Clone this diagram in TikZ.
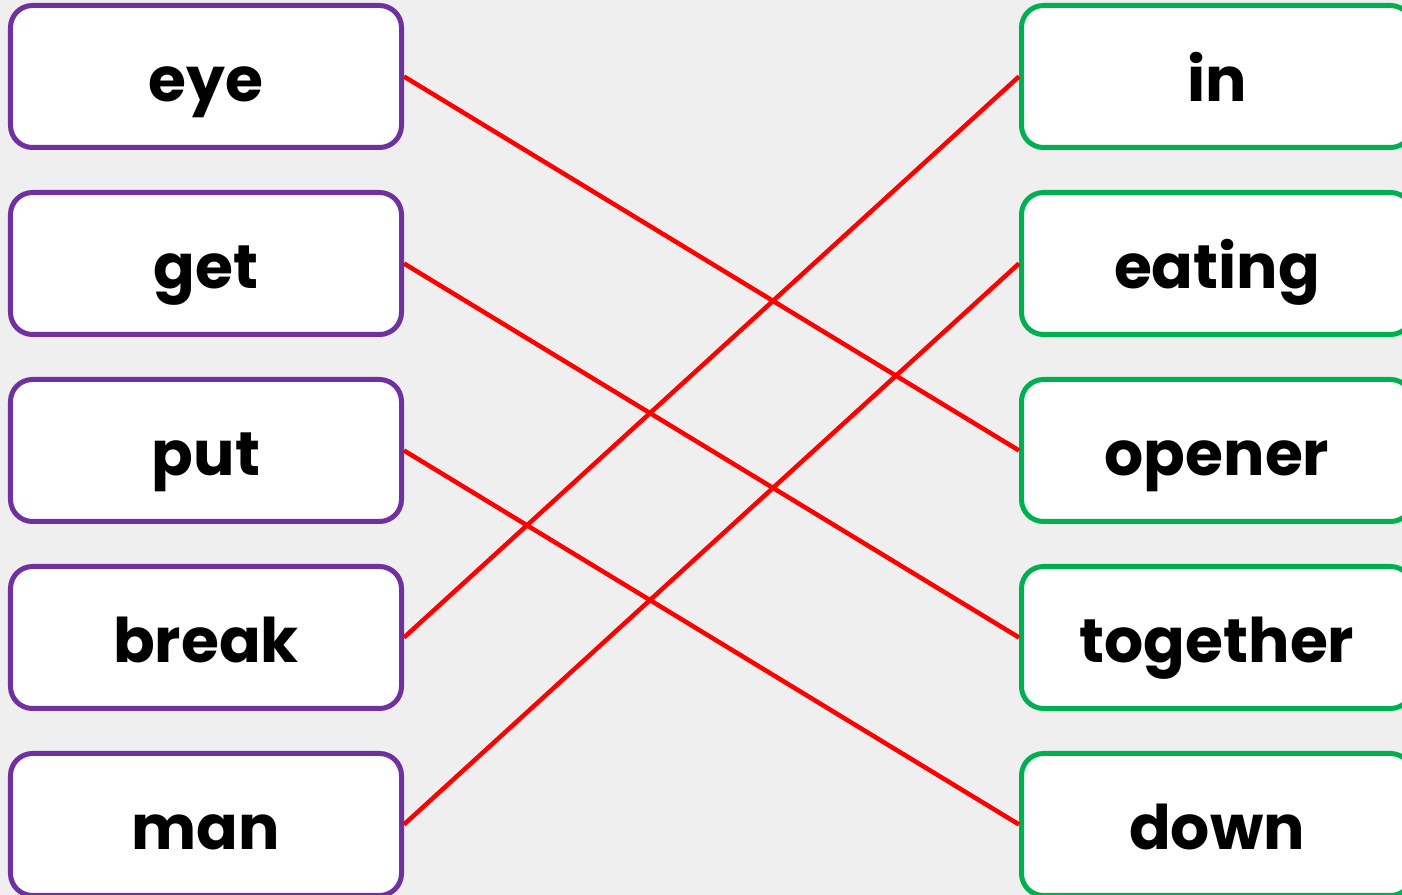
\documentclass[tikz,border=0pt]{standalone}
\usepackage{fontspec}
\setmainfont{Poppins}
\usetikzlibrary{positioning}
\definecolor{leftcol}{HTML}{7030A0}
\definecolor{rightcol}{HTML}{00B050}
\definecolor{bgcol}{HTML}{EFEFEF}
\tikzset{
  wordbox/.style={draw, fill=white, rounded corners=0.22cm, line width=0.05cm,
    minimum width=3.91cm, minimum height=1.42cm, inner sep=0pt,
    text height=0.5cm, text depth=0cm,
    font=\fontsize{17.5}{21}\selectfont\bfseries},
  leftbox/.style={wordbox, draw=leftcol},
  rightbox/.style={wordbox, draw=rightcol},
  match/.style={red, line width=0.045cm}
}
\begin{document}
\begin{tikzpicture}
      \fill[bgcol] (0,0) rectangle (14.02,-8.95);
      \useasboundingbox (0,0) rectangle (14.02,-8.95);
      \begin{scope}
        \clip (0,0) rectangle (14.02,-8.95);
        \foreach \w [count=\i] in {eye, get, put, break, man}
          \node[leftbox] (l\i) at (2.06,-0.765-1.87*\i+1.87) {\w};
        \foreach \w [count=\i] in {in, eating, opener, together, down}
          \node[rightbox] (r\i) at (12.17,-0.765-1.87*\i+1.87) {\w};
        \draw[match] (l1.east) -- (r3.west);
        \draw[match] (l2.east) -- (r4.west);
        \draw[match] (l3.east) -- (r5.west);
        \draw[match] (l4.east) -- (r1.west);
        \draw[match] (l5.east) -- (r2.west);
      \end{scope}
    \end{tikzpicture}
\end{document}
